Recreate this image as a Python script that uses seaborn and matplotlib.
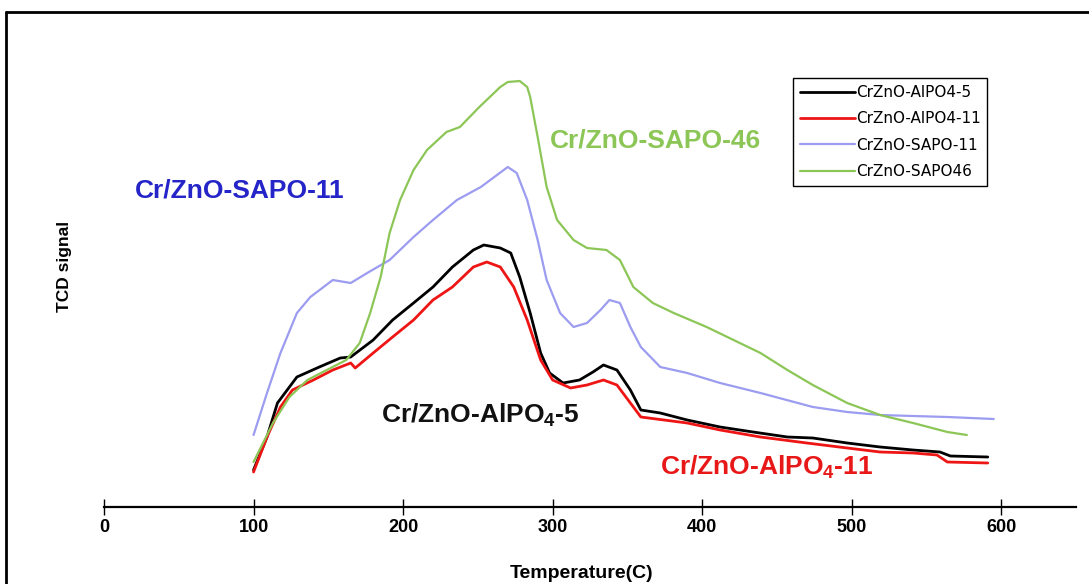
import matplotlib
matplotlib.use("Agg")
import matplotlib.pyplot as plt
from matplotlib.lines import Line2D
import seaborn as sns
import pandas as pd

# ---- data (TCD signal in arbitrary units) ----
t_alpo5 = [100, 109, 116, 129, 144, 158, 165, 180, 193, 207, 220, 233, 247, 254, 265, 272,
           278, 285, 292, 298, 307, 318, 327, 334, 343, 352, 359, 372, 390, 412, 434, 457,
           474, 497, 519, 541, 559, 566, 591]
s_alpo5 = [37, 70, 104, 130, 140, 149, 150, 167, 187, 204, 220, 240, 257, 262, 259, 254,
           230, 194, 154, 134, 124, 127, 135, 142, 137, 117, 97, 94, 87, 80, 75, 70,
           69, 64, 60, 57, 55, 51, 50]

t_alpo11 = [100, 109, 118, 126, 140, 153, 165, 168, 180, 193, 207, 220, 233, 247, 256, 265,
            274, 283, 292, 300, 312, 323, 334, 343, 352, 359, 390, 412, 439, 470, 497, 519,
            541, 557, 564, 591]
s_alpo11 = [35, 70, 100, 117, 127, 137, 144, 139, 154, 170, 187, 207, 220, 240, 245, 240,
            220, 187, 147, 127, 119, 122, 127, 122, 104, 90, 84, 77, 70, 64, 59, 55,
            54, 52, 45, 44]

t_sapo11 = [100, 109, 118, 129, 138, 153, 165, 176, 191, 207, 220, 236, 252, 270, 276, 283,
            290, 296, 305, 314, 323, 332, 338, 345, 352, 359, 372, 390, 412, 439, 464, 474,
            497, 519, 541, 564, 595]
s_sapo11 = [72, 114, 154, 194, 210, 227, 224, 234, 247, 270, 287, 307, 320, 340, 334, 307,
            267, 227, 194, 180, 184, 197, 207, 204, 180, 160, 140, 134, 124, 114, 104, 100,
            95, 92, 91, 90, 88]

t_sapo46 = [100, 113, 124, 136, 149, 162, 171, 178, 185, 191, 198, 207, 216, 229, 238, 251,
            265, 270, 278, 283, 285, 290, 296, 303, 314, 323, 336, 345, 354, 367, 381, 403,
            421, 439, 457, 474, 497, 519, 541, 564, 577]
s_sapo46 = [45, 84, 110, 127, 137, 147, 164, 194, 230, 274, 307, 337, 357, 375, 380, 400,
            420, 425, 426, 420, 410, 370, 320, 287, 267, 259, 257, 247, 220, 204, 194, 180,
            167, 154, 137, 122, 104, 92, 84, 75, 72]

legend_labels = ["CrZnO-AlPO4-5", "CrZnO-AlPO4-11", "CrZnO-SAPO-11", "CrZnO-SAPO46"]
x_ticks = [0, 100, 200, 300, 400, 500, 600]

series = [
    (legend_labels[0], t_alpo5, s_alpo5, "#000000", 2.0),
    (legend_labels[1], t_alpo11, s_alpo11, "#ee1515", 2.0),
    (legend_labels[2], t_sapo11, s_sapo11, "#9c9cf0", 1.6),
    (legend_labels[3], t_sapo46, s_sapo46, "#8cc656", 1.6),
]

sns.set_style("white")
plt.rcParams["font.family"] = ["Liberation Sans", "DejaVu Sans"]
plt.rcParams["text.color"] = "#000000"
plt.rcParams["xtick.color"] = "#000000"
plt.rcParams["mathtext.fontset"] = "custom"
plt.rcParams["mathtext.rm"] = "Liberation Sans:bold"
plt.rcParams["mathtext.it"] = "Liberation Sans:bold"
plt.rcParams["mathtext.bf"] = "Liberation Sans:bold"
plt.rcParams["mathtext.default"] = "regular"

fig = plt.figure(figsize=(10.89, 5.84), dpi=100)
ax = fig.add_axes([104 / 1089, 77 / 584, 972 / 1089, 487 / 584])

for name, t, s, c, lw in series:
    df = pd.DataFrame({"Temperature": t, "TCD": s})
    sns.lineplot(data=df, x="Temperature", y="TCD", ax=ax, color=c, lw=lw,
                 label=name, estimator=None, sort=False)

ax.set_xlim(0, 650)
ax.set_ylim(0, 487)
ax.set_xticks(x_ticks)
ax.set_xticklabels([str(v) for v in x_ticks])
ax.set_yticks([])
ax.set_xlabel("")
ax.set_ylabel("")
for side in ["top", "right", "left"]:
    ax.spines[side].set_visible(False)
ax.spines["bottom"].set_color("#000000")
ax.spines["bottom"].set_linewidth(1.6)
ax.tick_params(axis="x", direction="inout", length=11, width=1.0, color="#000000",
               labelcolor="#000000", pad=3, bottom=True)
for lab in ax.get_xticklabels():
    lab.set_fontweight("bold")
    lab.set_fontsize(13)

# axis titles
fig.text(582 / 1089, 1 - 574 / 584, "Temperature(C)", fontweight="bold",
         fontsize=14, ha="center", va="center", color="#000000")
fig.text(65 / 1089, 1 - 266 / 584, "TCD signal", fontweight="bold", fontsize=12.5,
         rotation=90, ha="center", va="center", color="#000000")

# in-plot annotations
ax.text(90.6, 309, "Cr/ZnO-SAPO-11", color="#2424c8", fontsize=19, fontweight="bold",
        ha="center", va="baseline")
ax.text(369, 360, "Cr/ZnO-SAPO-46", color="#8cc656", fontsize=19, fontweight="bold",
        ha="center", va="baseline")
ax.text(251.5, 84, "Cr/ZnO-AlPO$_4$-5", color="#111111", fontsize=19, fontweight="bold",
        ha="center", va="baseline")
ax.text(443, 32, "Cr/ZnO-AlPO$_4$-11", color="#e81818", fontsize=19, fontweight="bold",
        ha="center", va="baseline")

# legend
leg = ax.legend(loc="upper left", bbox_to_anchor=(793 / 1089, 1 - 78 / 584),
                bbox_transform=fig.transFigure, frameon=True, fancybox=False,
                edgecolor="#000000", fontsize=11, handlelength=3.6, handletextpad=0.05,
                labelspacing=0.75, borderpad=0.45, borderaxespad=0, framealpha=1)
leg.get_frame().set_linewidth(1.0)
for txt in leg.get_texts():
    txt.set_family(["DejaVu Sans"])
    txt.set_color("#000000")

# figure border (top and left)
fig.add_artist(Line2D([6 / 1089, 1], [1 - 12 / 584, 1 - 12 / 584], transform=fig.transFigure,
                      color="#000000", lw=2.0))
fig.add_artist(Line2D([6 / 1089, 6 / 1089], [0, 1 - 12 / 584], transform=fig.transFigure,
                      color="#000000", lw=2.0))

fig.savefig("out.png", dpi=100)
